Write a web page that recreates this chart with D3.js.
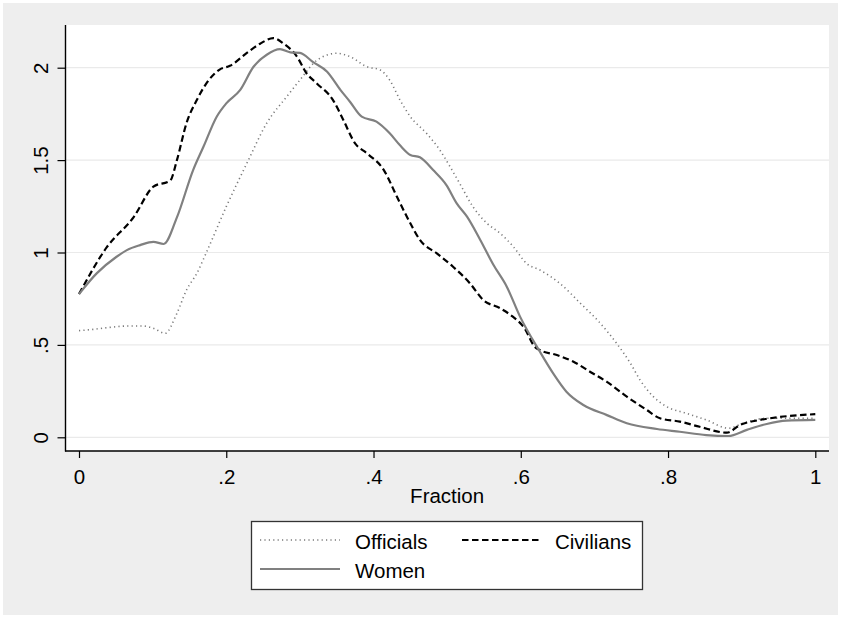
<!DOCTYPE html>
<html><head><meta charset="utf-8">
<script src="https://cdn.jsdelivr.net/npm/d3@7"></script>
<style>body{margin:0;background:#fff;}svg{display:block;font-family:"Liberation Sans",Arial,sans-serif;}</style>
</head><body><svg id="c" width="841" height="618"></svg>
<script>
const xTicks=[0,0.2,0.4,0.6,0.8,1];
const xTickLabels=["0",".2",".4",".6",".8","1"];
const yTicks=[0,0.5,1,1.5,2];
const yTickLabels=["0",".5","1","1.5","2"];
const seriesNames=["Officials","Civilians","Women"];
const xTitle="Fraction";

const officialsX=[0,0.019,0.042,0.065,0.087,0.101,0.117,0.133,0.146,0.160,0.173,0.200,0.228,0.255,0.282,0.300,0.323,0.350,0.368,0.391,0.409,0.422,0.436,0.450,0.472,0.490,0.504,0.517,0.535,0.554,0.572,0.590,0.608,0.626,0.653,0.681,0.708,0.730,0.749,0.762,0.780,0.798,0.825,0.852,0.882,0.902,0.934,0.961,1.0];
const officialsY=[0.577,0.584,0.595,0.602,0.602,0.59,0.563,0.671,0.797,0.887,1.0,1.248,1.483,1.70,1.843,1.933,2.04,2.078,2.06,2.005,1.988,1.933,1.825,1.735,1.645,1.555,1.464,1.374,1.248,1.158,1.104,1.031,0.94,0.905,0.833,0.725,0.617,0.509,0.40,0.31,0.22,0.166,0.13,0.094,0.049,0.076,0.103,0.103,0.103];

const civiliansX=[0,0.038,0.074,0.101,0.124,0.133,0.146,0.160,0.173,0.191,0.205,0.228,0.246,0.264,0.278,0.296,0.309,0.323,0.345,0.359,0.375,0.391,0.414,0.432,0.450,0.463,0.486,0.508,0.531,0.549,0.572,0.586,0.605,0.619,0.626,0.649,0.671,0.694,0.717,0.744,0.771,0.789,0.816,0.843,0.880,0.898,0.925,0.952,1.0];
const civiliansY=[0.775,1.03,1.19,1.356,1.39,1.50,1.70,1.825,1.915,1.99,2.01,2.08,2.13,2.16,2.13,2.06,1.97,1.915,1.825,1.717,1.59,1.537,1.446,1.30,1.158,1.068,0.995,0.923,0.833,0.743,0.698,0.662,0.59,0.49,0.472,0.445,0.41,0.355,0.30,0.22,0.148,0.103,0.085,0.057,0.025,0.067,0.094,0.11,0.125];

const womenX=[0,0.024,0.051,0.065,0.083,0.101,0.115,0.133,0.155,0.169,0.187,0.200,0.219,0.237,0.255,0.273,0.287,0.300,0.318,0.337,0.355,0.368,0.384,0.404,0.422,0.436,0.450,0.463,0.481,0.499,0.513,0.527,0.545,0.563,0.581,0.599,0.626,0.644,0.662,0.685,0.717,0.744,0.785,0.816,0.852,0.882,0.907,0.934,0.961,1.0];
const womenY=[0.775,0.887,0.977,1.013,1.04,1.058,1.046,1.19,1.446,1.572,1.735,1.807,1.88,2.005,2.07,2.10,2.083,2.08,2.03,1.978,1.88,1.816,1.735,1.708,1.645,1.58,1.528,1.515,1.446,1.365,1.266,1.194,1.068,0.932,0.815,0.653,0.463,0.346,0.247,0.175,0.12,0.076,0.045,0.03,0.012,0.007,0.04,0.072,0.09,0.094];

const FS=20.5;
const svg=d3.select("#c");
svg.append("rect").attr("x",3).attr("y",3).attr("width",835).attr("height",612).attr("fill","#eeeeee");
const plot={l:66,t:25,r:829,b:451};
svg.append("rect").attr("x",plot.l).attr("y",plot.t).attr("width",plot.r-plot.l).attr("height",plot.b-plot.t).attr("fill","#fff");

const x=d3.scaleLinear().domain([0,1]).range([79,815.3]);
const y=d3.scaleLinear().domain([0,2]).range([437.3,67.7]);

svg.append("g").selectAll("line").data(yTicks).join("line")
  .attr("x1",plot.l).attr("x2",plot.r).attr("y1",d=>y(d)).attr("y2",d=>y(d))
  .attr("stroke","#eaeaea").attr("stroke-width",1.2);

const yAxis=d3.axisLeft(y).tickValues(yTicks).tickSize(8).tickPadding(0).tickFormat((d,i)=>yTickLabels[i]);
const gy=svg.append("g").attr("transform",`translate(${plot.l-0.5},0)`).call(yAxis);
gy.select(".domain").remove();
gy.selectAll(".tick line").attr("stroke","#000").attr("stroke-width",1.2);
gy.selectAll(".tick text").attr("font-size",FS).attr("fill","#000")
  .attr("x",0).attr("dy",0).attr("text-anchor","middle")
  .attr("transform","translate(-25,0) rotate(-90)").attr("y",7);

const xAxis=d3.axisBottom(x).tickValues(xTicks).tickSize(7).tickPadding(0).tickFormat((d,i)=>xTickLabels[i]);
const gx=svg.append("g").attr("transform",`translate(0,${plot.b})`).call(xAxis);
gx.select(".domain").remove();
gx.selectAll(".tick line").attr("stroke","#000").attr("stroke-width",1.2);
gx.selectAll(".tick text").attr("font-size",FS).attr("fill","#000").attr("dy",0).attr("y",33);

svg.append("line").attr("x1",plot.l-0.5).attr("x2",plot.l-0.5).attr("y1",plot.t).attr("y2",plot.b+0.5).attr("stroke","#000").attr("stroke-width",1.4);
svg.append("line").attr("x1",plot.l-1).attr("x2",plot.r).attr("y1",plot.b).attr("y2",plot.b).attr("stroke","#000").attr("stroke-width",1.4);

svg.append("text").attr("x",(x(0)+x(1))/2).attr("y",503).attr("text-anchor","middle").attr("font-size",FS).attr("fill","#000").text(xTitle);

const styles={
  Officials:{stroke:"#7a7a7a",width:1.6,dash:"1.2,3.2"},
  Civilians:{stroke:"#000",width:2.2,dash:"6.5,3.5"},
  Women:{stroke:"#808080",width:2.2,dash:null}
};
const series=[
  {name:"Officials",xs:officialsX,ys:officialsY},
  {name:"Civilians",xs:civiliansX,ys:civiliansY},
  {name:"Women",xs:womenX,ys:womenY}
];
const line=d3.line().curve(d3.curveMonotoneX).x(d=>x(d[0])).y(d=>y(d[1]));
series.forEach(s=>{
  const st=styles[s.name];
  svg.append("path").datum(s.xs.map((v,i)=>[v,s.ys[i]])).attr("d",line)
    .attr("fill","none").attr("stroke",st.stroke).attr("stroke-width",st.width)
    .attr("stroke-dasharray",st.dash).attr("stroke-linejoin","round");
});

const lg=svg.append("g");
lg.append("rect").attr("x",251.5).attr("y",521.5).attr("width",391).attr("height",68).attr("fill","#fff").attr("stroke","#333").attr("stroke-width",1.3);
const legItems=[
  {name:"Officials",lx:260,ly:540,tx:355,ty:549},
  {name:"Civilians",lx:462,ly:540,tx:555,ty:549},
  {name:"Women",lx:260,ly:569,tx:355,ty:578}
];
legItems.forEach(it=>{
  const st=styles[it.name];
  lg.append("line").attr("x1",it.lx).attr("x2",it.lx+80).attr("y1",it.ly).attr("y2",it.ly)
    .attr("stroke",st.stroke).attr("stroke-width",st.width).attr("stroke-dasharray",st.dash);
  lg.append("text").attr("x",it.tx).attr("y",it.ty).attr("font-size",FS).attr("fill","#000").text(it.name);
});
</script></body></html>
